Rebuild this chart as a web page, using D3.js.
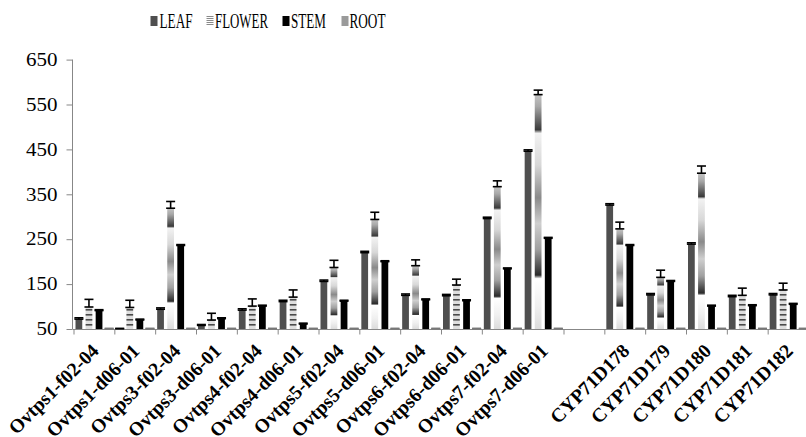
<!DOCTYPE html>
<html><head><meta charset="utf-8">
<script src="https://cdn.jsdelivr.net/npm/d3@7"></script>
<style>body{margin:0;background:#fff}svg{display:block}</style>
</head><body>
<svg id="c" width="806" height="437"></svg>
<script>
const categories = ["Ovtps1-f02-04","Ovtps1-d06-01","Ovtps3-f02-04","Ovtps3-d06-01","Ovtps4-f02-04","Ovtps4-d06-01","Ovtps5-f02-04","Ovtps5-d06-01","Ovtps6-f02-04","Ovtps6-d06-01","Ovtps7-f02-04","Ovtps7-d06-01","","CYP71D178","CYP71D179","CYP71D180","CYP71D181","CYP71D182"];
const series = ["LEAF","FLOWER","STEM","ROOT"];
const leaf      = [72, 51, 94, 58, 92, 111, 156, 220, 125, 124, 296, 446, null, 326, 126, 239, 122, 126];
const leafErr   = [3, 0, 3, 2, 3, 3, 3, 3, 3, 3, 3, 3, null, 3, 3, 3, 3, 3];
const flower    = [99, 98, 319, 70, 101, 121, 187, 294, 191, 148, 367, 572, null, 273, 165, 397, 125, 137];
const flowerErr = [17, 16, 15, 15, 16, 16, 16, 16, 13, 13, 13, 10, null, 15, 16, 16, 16, 15];
const stem      = [91, 70, 236, 73, 101, 61, 112, 200, 115, 113, 184, 252, null, 236, 156, 101, 102, 105];
const stemErr   = [2, 2, 2, 2, 2, 2, 2, 2, 2, 2, 2, 2, null, 2, 2, 2, 2, 2];
const root      = [51, 51, 51, 51, 51, 51, 51, 51, 51, 51, 51, 51, null, 51, 51, 51, 51, 51];
const rootErr   = [0, 0, 0, 0, 0, 0, 0, 0, 0, 0, 0, 0, null, 0, 0, 0, 0, 0];
const yTicks = [50, 150, 250, 350, 450, 550, 650];

const values = {LEAF: leaf, FLOWER: flower, STEM: stem, ROOT: root};
const errors = {LEAF: leafErr, FLOWER: flowerErr, STEM: stemErr, ROOT: rootErr};
const colors = {LEAF: "#4f4f4f", FLOWER: "url(#flowerGrad)", STEM: "#000000", ROOT: "#9a9a9a"};

const svg = d3.select("#c");
const defs = svg.append("defs");

const g = defs.append("linearGradient").attr("id", "flowerGrad")
  .attr("x1", 0).attr("y1", 0).attr("x2", 0).attr("y2", 1);
[[0,"#c4c4c4"],[0.05,"#a8a8a8"],[0.15,"#3a3a3a"],[0.165,"#f2f2f2"],[0.3,"#d8d8d8"],[0.44,"#8a8a8a"],
 [0.55,"#cfcfcf"],[0.66,"#a0a0a0"],[0.77,"#2a2a2a"],[0.785,"#ffffff"],[0.9,"#f0f0f0"],[1,"#dcdcdc"]]
 .forEach(([o,c]) => g.append("stop").attr("offset", o).attr("stop-color", c));

const p = defs.append("pattern").attr("id", "flowerStripe").attr("patternUnits", "userSpaceOnUse")
  .attr("width", 8).attr("height", 5).attr("y", 329);
p.append("rect").attr("width", 8).attr("height", 5).attr("fill", "#dedede");
p.append("rect").attr("width", 8).attr("height", 1.6).attr("fill", "#4a4a4a");

const lp = defs.append("pattern").attr("id", "legStripe").attr("patternUnits", "userSpaceOnUse")
  .attr("width", 8).attr("height", 2);
lp.append("rect").attr("width", 8).attr("height", 2).attr("fill", "#ffffff");
lp.append("rect").attr("width", 8).attr("height", 1).attr("fill", "#8a8a8a");

const y = d3.scaleLinear().domain([50, 650]).range([329, 59.6]);
const xIdx = d3.range(categories.length);
const x = d3.scaleBand().domain(xIdx).range([73.5, 808.5]).padding(0);
const x1 = d3.scaleBand().domain(series).range([2, 39]).paddingInner(0.33);
const xb = d3.scaleLinear().domain([0, categories.length]).range([73.5, 808.5]);

const yAxis = svg.append("g").attr("transform", "translate(72.5,0)")
  .call(d3.axisLeft(y).tickValues(yTicks).tickSize(6).tickPadding(9).tickFormat(d3.format("d")));
yAxis.select(".domain").attr("stroke", "#878787").attr("d", `M0,${y(650)}V${y(50)}`);
yAxis.selectAll(".tick line").attr("stroke", "#878787");
yAxis.selectAll(".tick text")
  .attr("font-family", "'Liberation Serif', 'Times New Roman', serif")
  .attr("font-size", 18).attr("fill", "#000")
  .attr("textLength", d => String(d).length * 10.5)
  .attr("lengthAdjust", "spacingAndGlyphs");

const xAxis = svg.append("g").attr("transform", "translate(0,329.5)")
  .call(d3.axisBottom(xb).tickValues(d3.range(categories.length + 1)).tickSize(5).tickFormat(""));
xAxis.select(".domain").attr("stroke", "#878787").attr("d", "M72.5,0H806");
xAxis.selectAll(".tick line").attr("stroke", "#878787");

const groups = svg.append("g").selectAll("g.cat").data(xIdx.filter(i => categories[i] !== ""))
  .join("g").attr("class", "cat").attr("transform", i => `translate(${x(i)},0)`);

series.forEach(s => {
  groups.append("rect")
    .attr("x", x1(s)).attr("width", x1.bandwidth())
    .attr("y", i => y(values[s][i]))
    .attr("height", i => y(50) - y(values[s][i]))
    .attr("fill", i => {
      if (s !== "FLOWER") return colors[s];
      return (y(50) - y(values[s][i])) < 50 ? "url(#flowerStripe)" : "url(#flowerGrad)";
    });
});

const capW = 9;
series.forEach(s => {
  const eb = groups.append("g").attr("stroke", s === "ROOT" ? "#777" : "#000").attr("stroke-width", 1.6);
  const cx = x1(s) + x1.bandwidth() / 2;
  eb.append("line").attr("x1", cx).attr("x2", cx)
    .attr("y1", i => y(values[s][i])).attr("y2", i => y(values[s][i] + errors[s][i]));
  eb.append("line").attr("x1", cx - capW / 2).attr("x2", cx + capW / 2)
    .attr("y1", i => y(values[s][i])).attr("y2", i => y(values[s][i]));
  eb.append("line").attr("x1", cx - capW / 2).attr("x2", cx + capW / 2)
    .attr("y1", i => y(values[s][i] + errors[s][i])).attr("y2", i => y(values[s][i] + errors[s][i]));
});

svg.append("g").selectAll("text").data(xIdx.filter(i => categories[i] !== ""))
  .join("text")
  .attr("transform", i => `translate(${x(i) + x.bandwidth() / 2 + 6},352) rotate(-45)`)
  .attr("text-anchor", "end")
  .attr("font-family", "'Liberation Serif', 'Times New Roman', serif")
  .attr("font-weight", "bold").attr("font-size", 19.5).attr("fill", "#000")
  .text(i => categories[i]);

const legendItems = [
  {name: "LEAF",   mx: 150.5, tx: 159.5, tw: 33, fill: "#4f4f4f"},
  {name: "FLOWER", mx: 206.5, tx: 215,   tw: 53, fill: "url(#legStripe)"},
  {name: "STEM",   mx: 282.5, tx: 291,   tw: 35, fill: "#000000"},
  {name: "ROOT",   mx: 341.5, tx: 349.5, tw: 36, fill: "#9a9a9a"}
];
const lg = svg.append("g");
lg.selectAll("rect").data(legendItems).join("rect")
  .attr("x", d => d.mx).attr("y", 16).attr("width", 7).attr("height", 10)
  .attr("fill", d => d.fill);
lg.selectAll("text").data(legendItems).join("text")
  .attr("x", d => d.tx).attr("y", 27.5)
  .attr("font-family", "'Liberation Serif', 'Times New Roman', serif")
  .attr("font-size", 21).attr("fill", "#000")
  .attr("textLength", d => d.tw).attr("lengthAdjust", "spacingAndGlyphs")
  .text(d => d.name);
</script>
</body></html>
